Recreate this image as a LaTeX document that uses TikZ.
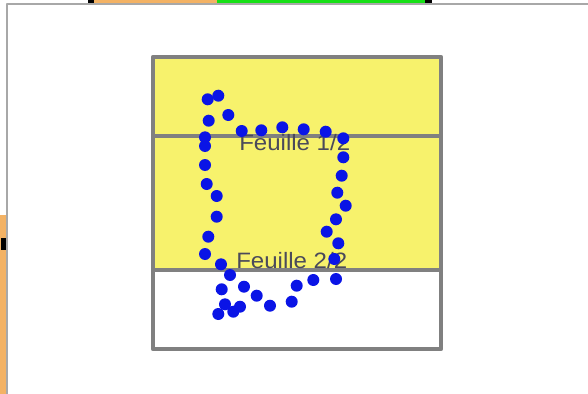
\documentclass[tikz,border=0pt]{standalone}
\usepackage{fontspec}
\setsansfont{Liberation Sans}
\definecolor{sheetedge}{HTML}{808080}
\definecolor{sheetfill}{HTML}{F7F26C}
\definecolor{penblue}{HTML}{0A14E6}
\definecolor{labelink}{HTML}{4A4A5A}
\definecolor{winedge}{HTML}{A8A8A8}
\definecolor{stripgreen}{HTML}{16E016}
\definecolor{striporange}{HTML}{F3B264}

\begin{document}
\begin{tikzpicture}[
  x=0.03cm,
  y=-0.03cm,
  line join=round,
  sheet/.style={draw=sheetedge,line width=3.6pt},
  window/.style={draw=winedge,line width=1.3pt},
  sheetlabel/.style={font=\sffamily\fontsize{19}{19}\selectfont,text=labelink,inner sep=0pt,xscale=1.08},
  pendot/.style={fill=penblue}
]
  \useasboundingbox (0,0) rectangle (588,394);
  \fill[white] (0,0) rectangle (588,394);

  % Pieces of the desktop behind the window.
  \fill[striporange] (88,0) rectangle (217,4);
  \fill[stripgreen] (217,0) rectangle (428,4);
  \fill[black] (88,0) rectangle (94,4);
  \fill[black] (425,0) rectangle (432,4);
  \fill[striporange] (0,215) rectangle (7,394);
  \fill[black] (1,238) rectangle (6,250);

  % Window frame.
  \draw[window] (7,394) -- (7,4) -- (588,4);

  % Two printed sheets stacked on the page.
  \fill[sheetfill] (153,57) rectangle (441,270);
  \draw[sheet] (153,57) rectangle (441,349);
  \draw[sheet] (153,136) -- (441,136);
  \draw[sheet] (153,270) -- (441,270);

  \node[sheetlabel,anchor=base west] (sheetone) at (239,150) {Feuille 1/2};
  \node[sheetlabel,anchor=base west] (sheettwo) at (236,268) {Feuille 2/2};

  % Hand-drawn stroke as a chain of blue dots.
  \foreach \px/\py in {
    207.7/99.3, 218.3/95.7, 228.3/115, 208.7/120.7, 241.7/131, 261.3/130.3,
    282.3/127.3, 303.7/129.3, 325.7/131.7, 343.3/138.3, 343.3/157.3,
    205/137.3, 205/146, 205/165, 206.7/184, 216.7/196, 216.7/216.7,
    208.3/236.7, 205/254, 221/264.3, 230/275, 221.7/289.3, 244/286.7,
    256.7/295.7, 225/304.3, 240/306.7, 233.3/311.7, 218.3/314, 270/305.7,
    291.7/301.7, 296.7/285.7, 313.3/280, 336/279, 334.3/259, 338.3/243.3,
    326.7/231.7, 336/219.3, 345.7/205.7, 337.3/192.7, 341.7/175.7} {
    \fill[pendot] (\px,\py) circle[radius=6];
  }
\end{tikzpicture}
\end{document}
